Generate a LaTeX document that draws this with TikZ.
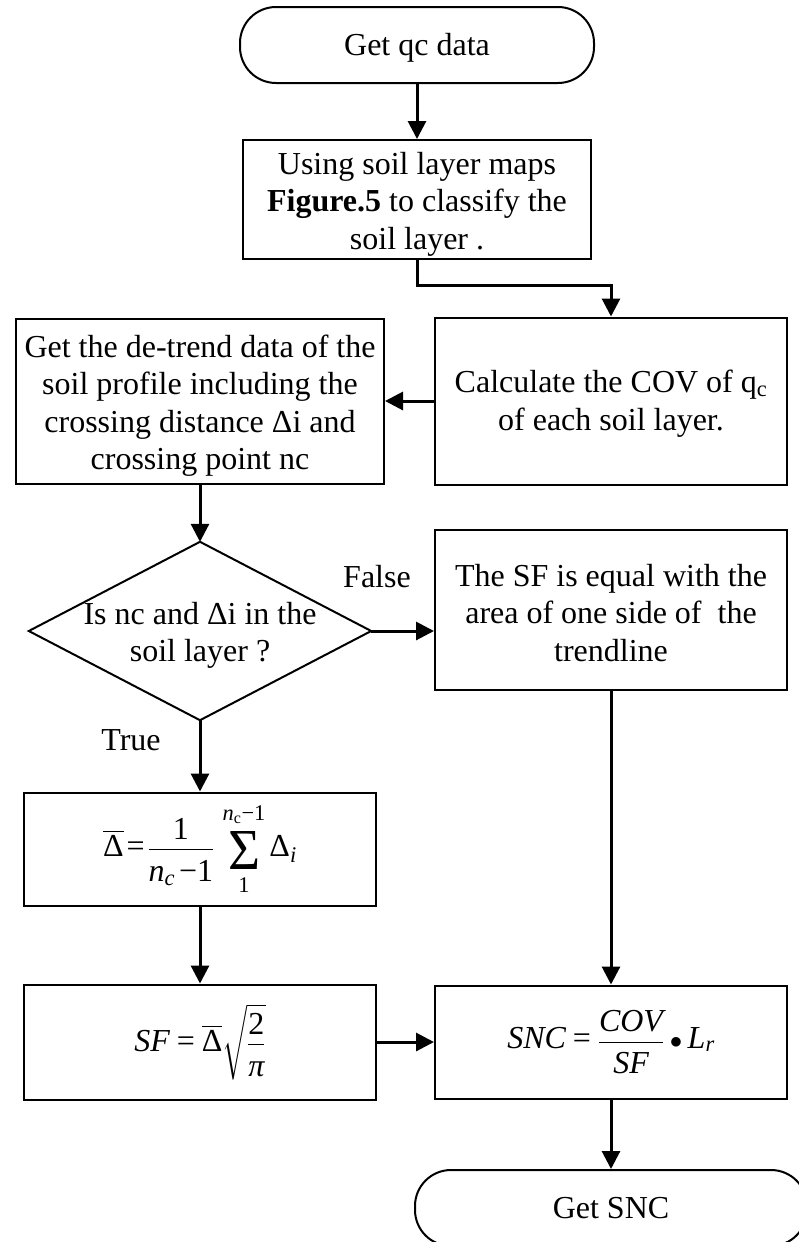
\documentclass[tikz,border=0pt]{standalone}
\usepackage{amsmath}
\usepackage{graphicx}
\usepackage{fontspec}
\setmainfont{Liberation Serif}
\usetikzlibrary{arrows.meta,calc}
% italic and upright letters taken from the text font inside formulas
\newcommand{\vi}[1]{\text{\itshape #1}}
\newcommand{\vr}[1]{\text{\upshape #1}}
\newcommand{\eqs}{\mathrel{\vr{=}}}
\newcommand{\bigsum}{\mathop{\vcenter{\vbox{\vskip5pt\hbox{\resizebox{32pt}{38pt}{\fontsize{40}{40}\selectfont Σ}}\vskip4pt}}}\limits}
% struts that open up the space around a fraction bar
\newcommand{\numsp}{\rule[-6pt]{0pt}{6pt}}
\newcommand{\densp}{\rule{0pt}{28pt}}
% extra height on a first line to sit the text a little lower in its box
\newcommand{\lift}[1]{\rule{0pt}{#1}}

\begin{document}
\begin{tikzpicture}[x=1pt,y=-1pt,
  every node/.style={font=\fontsize{32}{37.5}\selectfont, align=center, inner sep=0pt},
  box/.style={draw, line width=2pt, minimum width=352pt},
  term/.style={draw, line width=2pt, rounded corners=36pt, minimum height=76pt},
  flow/.style={line width=3pt, -{Triangle[length=18pt,width=18pt]}}]
\useasboundingbox (0,0) rectangle (799,1242);

% process steps
\node[term, minimum width=354pt] (start) at (417,45) {\lift{27pt}Get qc data};
\node[box, minimum width=348pt, minimum height=119pt] (classify) at (417,199.5)
  {\lift{31pt}Using soil layer maps\\\textbf{Figure.5} to classify the\\soil layer .};
\node[box, minimum height=167pt] (cov) at (611,401)
  {\lift{28pt}Calculate the COV of q\textsubscript{c}\\of each soil layer.};
\node[box, minimum width=368pt, minimum height=165pt] (detrend) at (200,401)
  {\lift{32pt}Get the de-trend data of the\\soil profile including the\\crossing distance Δi and\\crossing point nc};

% decision
\node[minimum width=342pt, minimum height=178pt] (check) at (200,631)
  {\lift{31pt}Is nc and Δi in the\\soil layer ?};
\draw[line width=2pt] (check.north) -- (check.east) -- (check.south) -- (check.west) -- cycle;
\node (false) at (377,577) {False};
\node (true) at (131,740) {True};

\node[box, minimum height=160pt] (area) at (611,610)
  {\lift{28pt}The SF is equal with the\\area of one side of\ \ the\\trendline};
\node[box, minimum height=113pt] (mean) at (200,849)
  {$\displaystyle \overline{\vr{Δ}}\!\eqs\!\frac{\vr{1}\numsp}{\densp\vi{n}_{\vi{c}}\,\vr{−}\vr{1}}\,\bigsum_{\vr{1}}^{\vi{n}_{\vr{c}}\vr{−}\vr{1}}\vr{Δ}_{\vi{i}}$};
\node[box, minimum height=115pt] (sf) at (200,1042)
  {$\displaystyle \vi{SF}\eqs\overline{\vr{Δ}}\sqrt{\frac{\vr{2}\numsp}{\densp\vi{π}}}$};
\node[box, minimum height=113pt] (snc) at (611,1042)
  {$\displaystyle \vi{SNC}\eqs\frac{\vi{COV}\numsp}{\densp\vi{SF}}\bullet \vi{L}_{\vi{r}}$};
\node[term, minimum width=392pt] (finish) at (611,1208) {Get SNC};

% connectors
\draw[flow] (start.south) -- (classify.north);
\draw[flow] (classify.south) |- ($(classify.south)!0.45!(cov.north)$) -| (cov.north);
\draw[flow] (cov.west) -- (detrend.east);
\draw[flow] (detrend.south) -- (check.north);
\draw[flow] (check.east) -- (check.east -| area.west);
\draw[flow] (check.south) -- (mean.north);
\draw[flow] (area.south) -- (snc.north);
\draw[flow] (mean.south) -- (sf.north);
\draw[flow] (sf.east) -- (sf.east -| snc.west);
\draw[flow] (snc.south) -- (finish.north);
\end{tikzpicture}
\end{document}
